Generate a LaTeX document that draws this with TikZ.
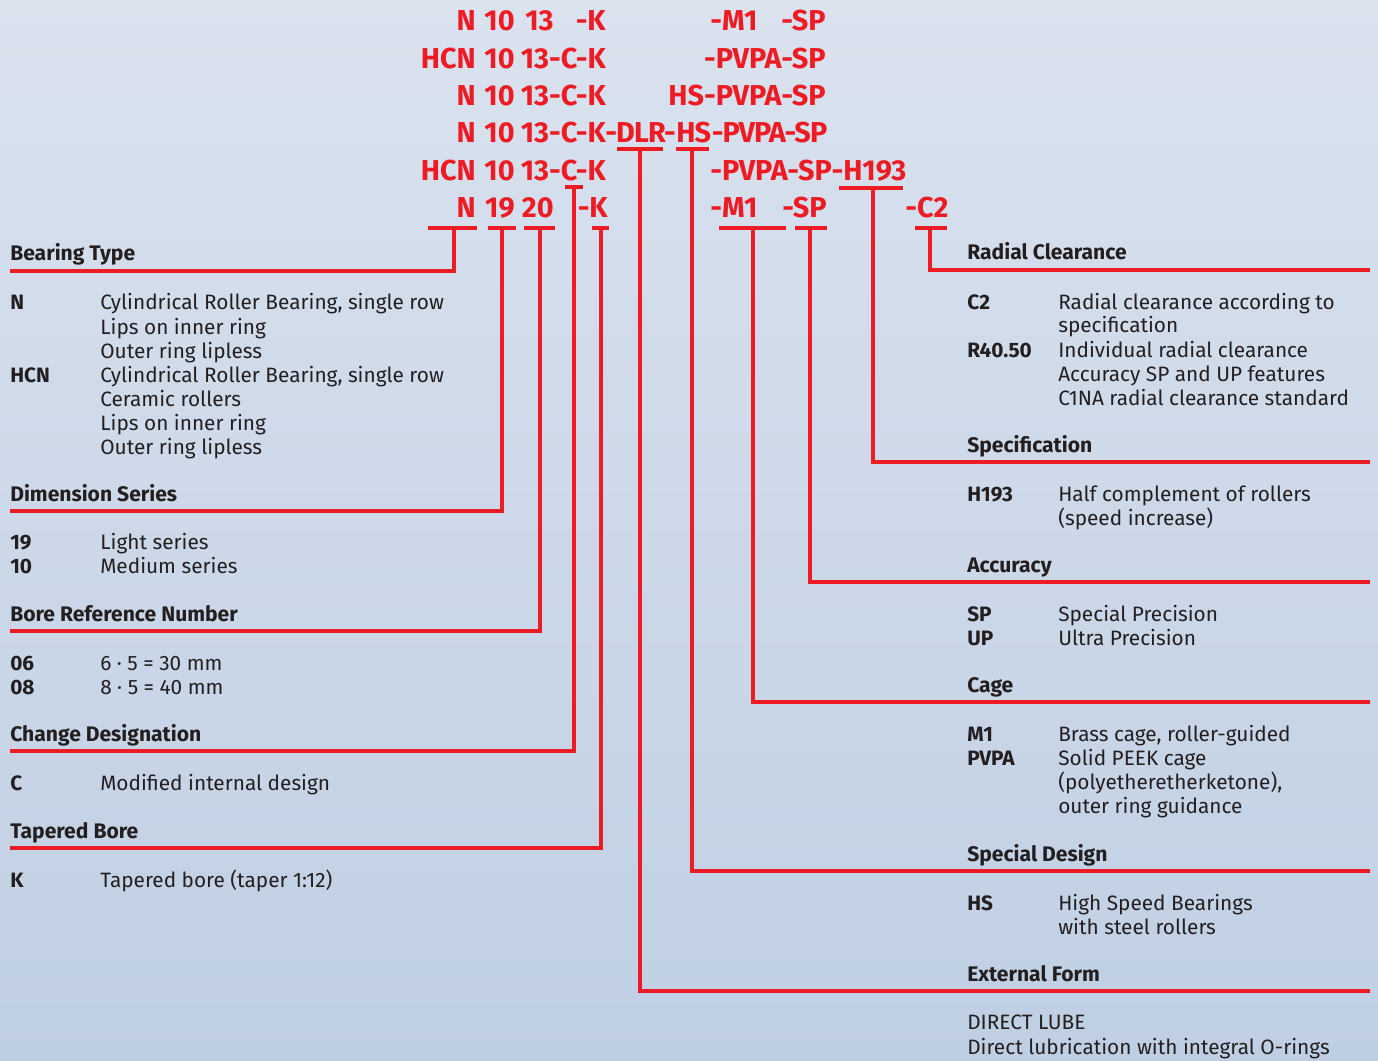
\documentclass[tikz,border=0pt]{standalone}
\usepackage{fontspec}
\setmainfont{Fira Sans}
\newfontfamily\codetight{Fira Sans}[LetterSpace=-3.0]
\definecolor{codered}{RGB}{237,28,36}
\definecolor{ink}{RGB}{35,31,32}
\definecolor{bgtop}{RGB}{218,226,238}
\definecolor{bgbot}{RGB}{191,207,227}

\begin{document}
\begin{tikzpicture}[x=0.25mm, y=-0.25mm, every node/.style={inner sep=0pt, text=ink, font=\fontsize{14.8}{17}\selectfont}, cd/.style={text=codered, font=\fontsize{20.5}{24}\selectfont\bfseries, anchor=base east}, cdl/.style={cd, anchor=base west}, cdt/.style={cdl, font=\codetight\fontsize{20.5}{24}\selectfont\bfseries}, hd/.style={font=\fontsize{15}{18}\selectfont\bfseries, anchor=base west}, key/.style={font=\fontsize{14.8}{17}\selectfont\bfseries, anchor=base west}, txt/.style={anchor=base west}, lead/.style={draw=codered, line width=2.2pt}]
	\shade[top color=bgtop, bottom color=bgbot] (0,0) rectangle (1378,1061);
	\useasboundingbox (0,0) rectangle (1378,1061);
	% designation rows
	\foreach \i/\x/\t in {a/476/N, b/515/10, c/554/13, d/606/-K, f/826/-SP} {\node[cd] (r1\i) at (\x,31) {\t};}
	\node[cdl] (r1e) at (710,31) {-M1};
	\foreach \i/\x/\t in {a/476/HCN, b/515/10, c/606/13-C-K, d/826/-PVPA-SP} {\node[cd] (r2\i) at (\x,68.5) {\t};}
	\foreach \i/\x/\t in {a/476/N, b/515/10, c/606/13-C-K, d/826/HS-PVPA-SP} {\node[cd] (r3\i) at (\x,106) {\t};}
	\foreach \i/\x/\t in {a/476/N, b/515/10, c/606/13-C-K} {\node[cd] (r4\i) at (\x,143) {\t};}
	\node[cdt] (r4d) at (605,143) {-DLR-};
	\node[cdt] (r4e) at (r4d.base east) {HS};
	\node[cdt] (r4f) at (r4e.base east) {-PVPA-SP};
	\foreach \i/\x/\t in {a/476/HCN, b/515/10, c/606/13-C-K} {\node[cd] (r5\i) at (\x,181) {\t};}
	\node[cdl] (r5d) at (710,181) {-PVPA-SP-H193};
	\foreach \i/\x/\t in {a/476/N, b/515/19, c/554/20, d/608/-K, f/827/-SP} {\node[cd] (r6\i) at (\x,218) {\t};}
	\node[cdl] (r6e) at (710,218) {-M1};
	\node[cdl] (r6g) at (905,218) {-C2};
	% leaders: underline, then down to the heading rule
	\foreach \n/\ua/\ub/\ux/\uy/\lx/\ly in {type/428/477/454/228/10/271, dim/488/516/502/228/10/511, bore/524/555/540/228/10/631, chg/565/583/574/187/10/751, tap/592/609/601/228/10/848, ext/617/663/640/149/1370/991, spd/676/709/692/149/1370/871, cage/719/786/753/228/1370/702, acc/795/827/810/228/1370/582, spec/839/903/873/188/1370/462, rad/915/947/930/228/1370/270} {
		\coordinate (u-\n) at (\ux,\uy);
		\coordinate (l-\n) at (\lx,\ly);
		\draw[lead] (\ua,\uy) -- (\ub,\uy);
		\draw[lead] (u-\n) |- (l-\n);
	}
	% headings
	\foreach \n/\x/\y/\t in {type/10/261/Bearing Type, dim/10/501/Dimension Series, bore/10/621/Bore Reference Number, chg/10/741/Change Designation, tap/10/838/Tapered Bore, rad/967/260/Radial Clearance, spec/967/452/Specification, acc/967/572/Accuracy, cage/967/692/Cage, spd/967/861/Special Design, ext/967/981/External Form} {\node[hd] (h-\n) at (\x,\y) {\t};}
	% left column
	\foreach \n/\y/\t in {1/310/N, 2/382/HCN, 3/549/19, 4/573/10, 5/670/06, 6/694/08, 7/790/C, 8/887/K} {\node[key] (kl\n) at (10,\y) {\t};}
	\foreach \n/\y/\t in {1/310/{Cylindrical Roller Bearing, single row}, 2/334/Lips on inner ring, 3/358/Outer ring lipless, 4/382/{Cylindrical Roller Bearing, single row}, 5/406/Ceramic rollers, 6/430/Lips on inner ring, 7/454/Outer ring lipless, 8/549/Light series, 9/573/Medium series, 10/670/6 · 5 = 30 mm, 11/694/8 · 5 = 40 mm, 12/790/Modified internal design, 13/887/Tapered bore (taper 1:12)} {\node[txt] (dl\n) at (100,\y) {\t};}
	% right column
	\foreach \n/\y/\t in {1/309/C2, 2/357/R40.50, 3/501/H193, 4/621/SP, 5/645/UP, 6/741/M1, 7/765/PVPA, 8/910/HS} {\node[key] (kr\n) at (967,\y) {\t};}
	\foreach \n/\y/\t in {1/309/Radial clearance according to, 2/333/specification, 3/357/Individual radial clearance, 4/381/Accuracy SP and UP features, 5/405/C1NA radial clearance standard, 6/501/Half complement of rollers, 7/525/(speed increase), 8/621/Special Precision, 9/645/Ultra Precision, 10/741/{Brass cage, roller-guided}, 11/765/Solid PEEK cage, 12/789/{(polyetheretherketone),}, 13/813/outer ring guidance, 14/910/High Speed Bearings, 15/934/with steel rollers} {\node[txt] (dr\n) at (1058,\y) {\t};}
	\node[txt] (ext1) at (967,1029) {DIRECT LUBE};
	\node[txt] (ext2) at (967,1054) {Direct lubrication with integral O-rings};
\end{tikzpicture}
\end{document}
